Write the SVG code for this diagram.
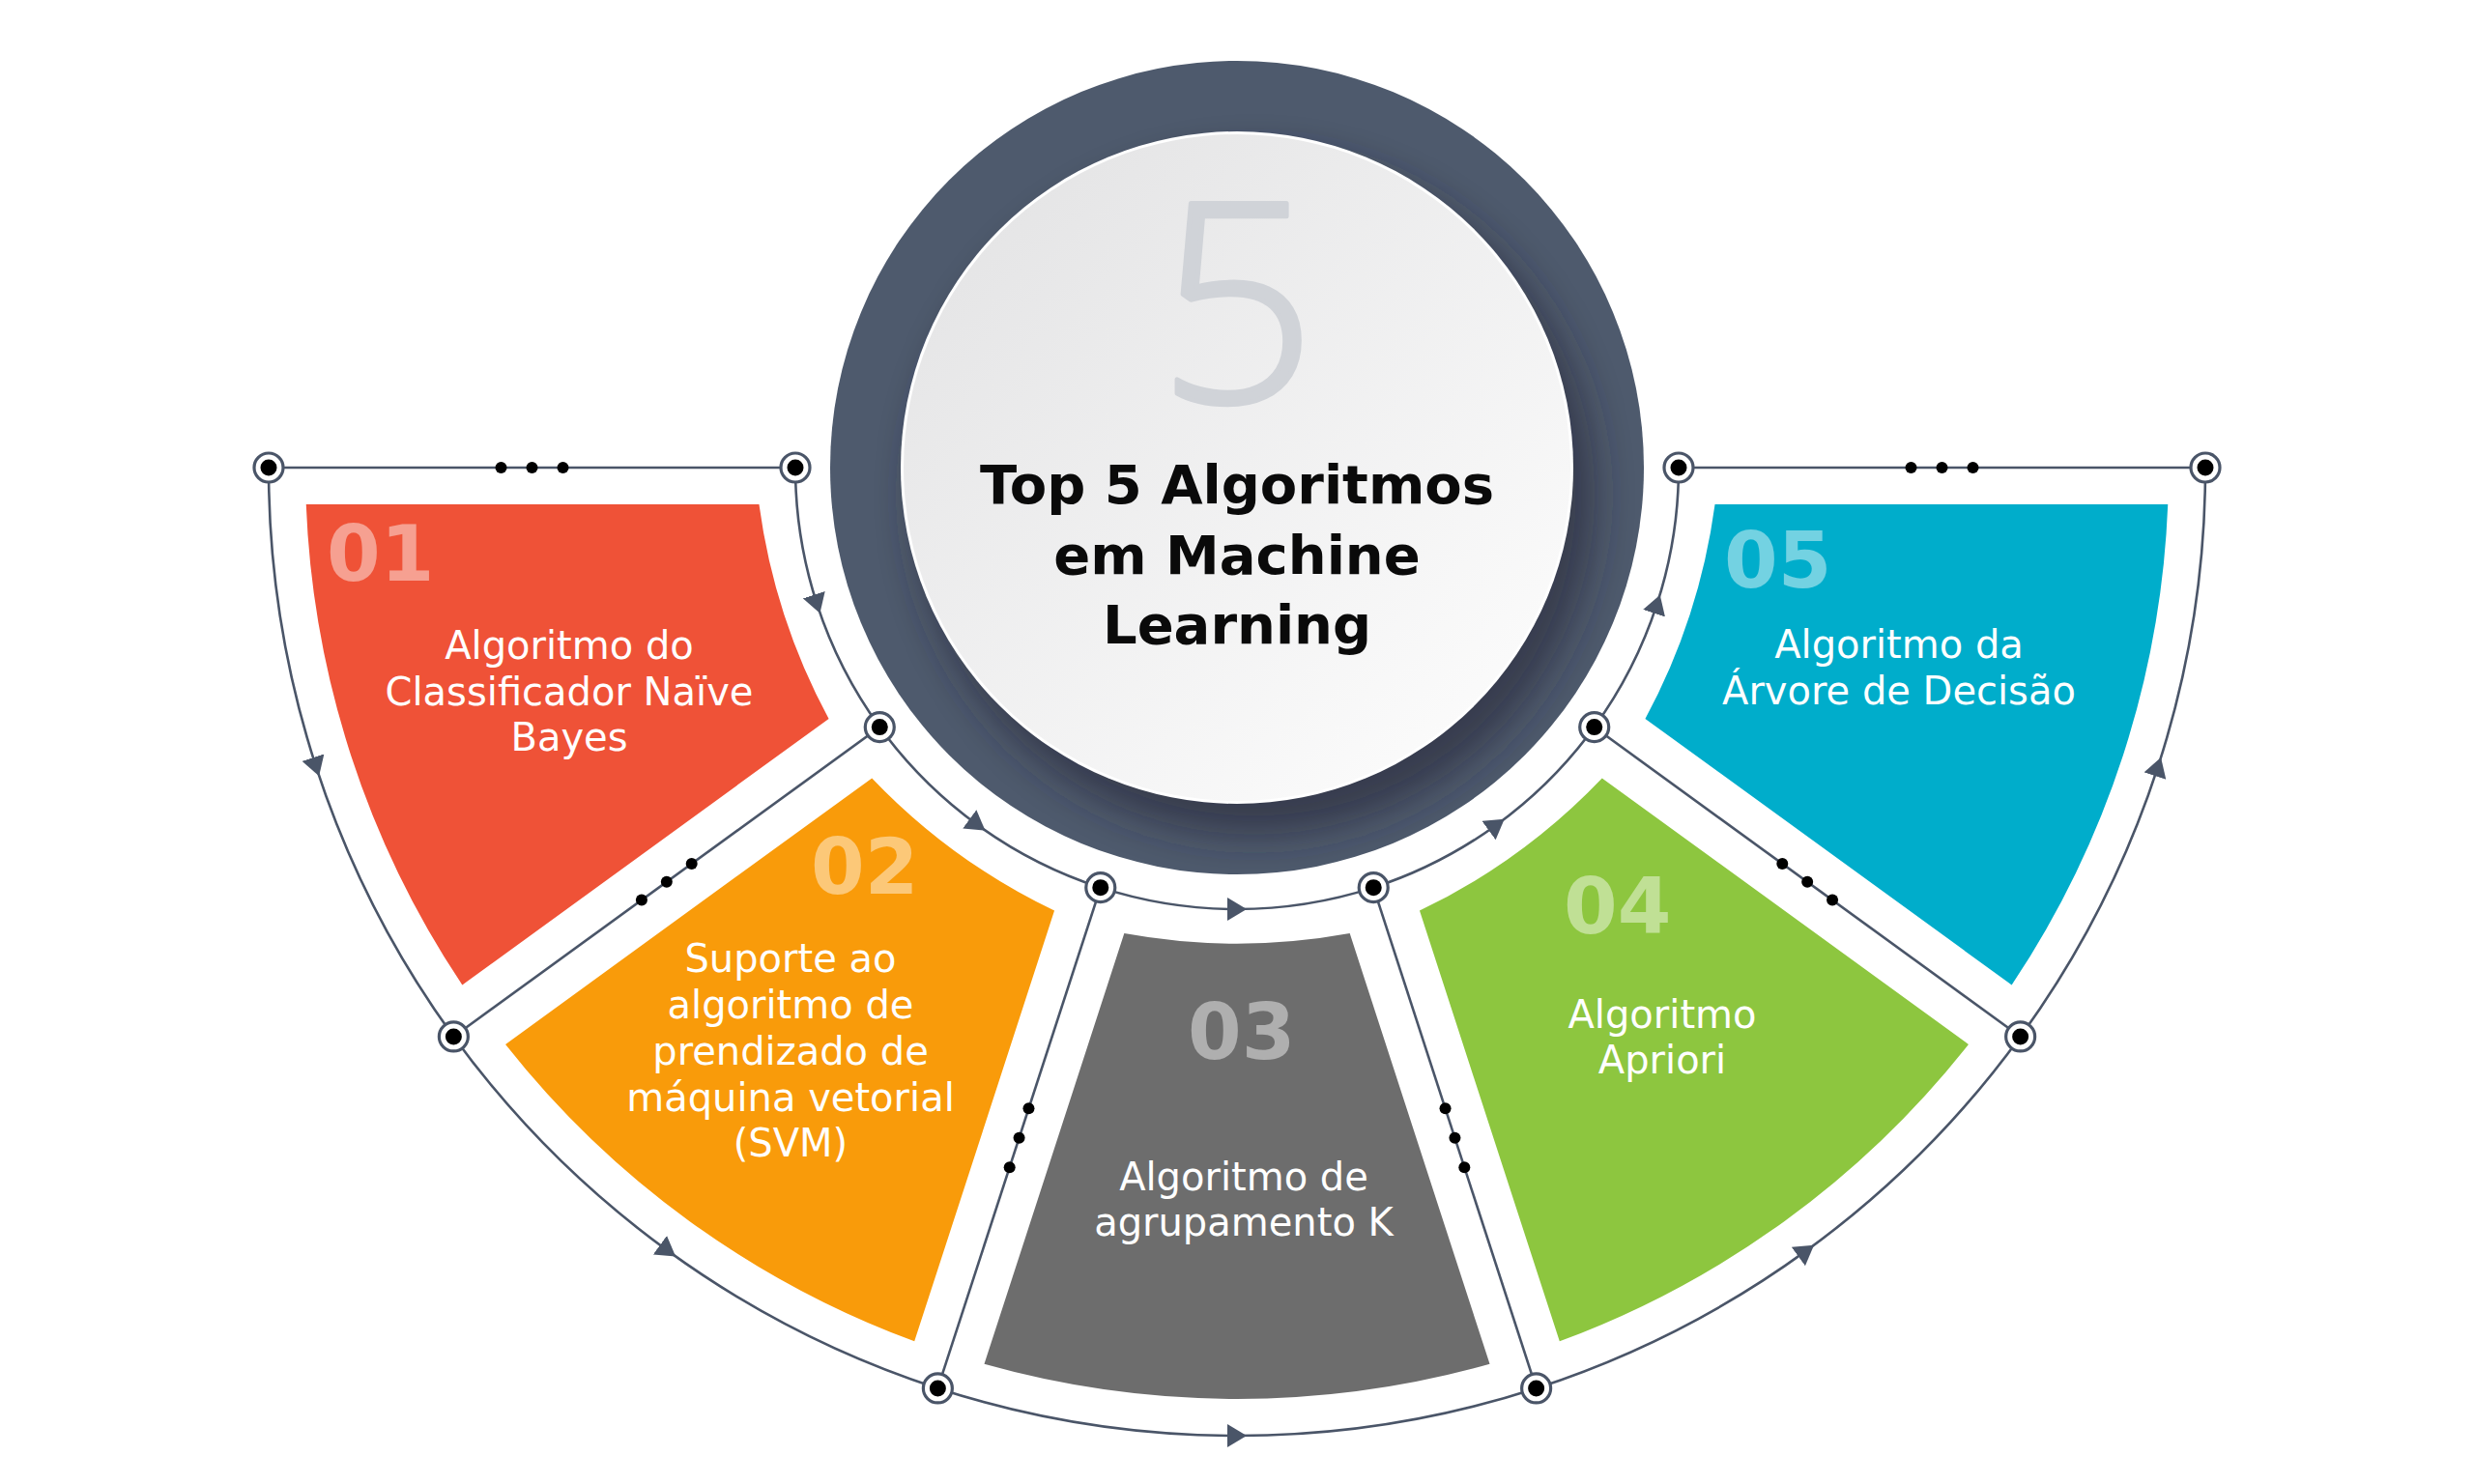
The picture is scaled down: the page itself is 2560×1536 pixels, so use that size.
<svg xmlns="http://www.w3.org/2000/svg" width="2560" height="1536" viewBox="0 0 2560 1536">
<style>
.num{font-family:"DejaVu Sans","Liberation Sans",sans-serif;font-weight:bold;font-size:80px;fill:#fff;fill-opacity:0.45}
.txt{font-family:"DejaVu Sans","Liberation Sans",sans-serif;font-size:40px;fill:#fff;text-anchor:middle}
.title{font-family:"DejaVu Sans","Liberation Sans",sans-serif;font-weight:bold;font-size:56px;fill:#0a0a0a;text-anchor:middle}
.big{font-family:"Open Sans","Liberation Sans",sans-serif;font-weight:300;font-size:288px;fill:#d0d3d8;stroke:#d0d3d8;stroke-width:5;stroke-linejoin:round;text-anchor:middle}
.ln{fill:none;stroke:#4a5568;stroke-width:2.6}
.arc{fill:none;stroke:#4a5568;stroke-width:2.6;marker-mid:url(#arr)}
.ring{fill:#fff;stroke:#4a5568;stroke-width:3.2}
.blk{fill:#000}
</style>
<defs>
<marker id="arr" viewBox="0 0 20 24" markerUnits="userSpaceOnUse" markerWidth="20" markerHeight="24" refX="10" refY="12" orient="auto">
<path d="M0,0 L20,12 L0,24 Z" fill="#4a5568"/>
</marker>
<linearGradient id="disk" x1="0.15" y1="0.1" x2="0.85" y2="0.9">
<stop offset="0" stop-color="#e5e5e6"/>
<stop offset="1" stop-color="#fbfbfb"/>
</linearGradient>
<clipPath id="ringclip"><circle cx="1280" cy="484" r="421"/></clipPath>
<filter id="blur" x="-30%" y="-30%" width="160%" height="160%"><feGaussianBlur stdDeviation="20"/></filter>
</defs>
<rect width="2560" height="1536" fill="#fff"/>

<g id="connectors">
<path class="ln" d="M278,484 L823,484"/>
<path class="ln" d="M1737,484 L2282,484"/>
<path class="ln" d="M910.28,752.62 L469.36,1072.96"/>
<path class="ln" d="M1138.78,918.63 L970.37,1436.96"/>
<path class="ln" d="M1421.22,918.63 L1589.63,1436.96"/>
<path class="ln" d="M1649.72,752.62 L2090.64,1072.96"/>
<path class="arc" d="M278,484 A1002,1002 0 0 0 327.04,793.63 A1002,1002 0 0 0 469.36,1072.96"/>
<path class="arc" d="M469.36,1072.96 A1002,1002 0 0 0 691.04,1294.64 A1002,1002 0 0 0 970.37,1436.96"/>
<path class="arc" d="M970.37,1436.96 A1002,1002 0 0 0 1280,1486 A1002,1002 0 0 0 1589.63,1436.96"/>
<path class="arc" d="M1589.63,1436.96 A1002,1002 0 0 0 1868.96,1294.64 A1002,1002 0 0 0 2090.64,1072.96"/>
<path class="arc" d="M2090.64,1072.96 A1002,1002 0 0 0 2232.96,793.63 A1002,1002 0 0 0 2282,484"/>
<path class="arc" d="M823,484 A457,457 0 0 0 845.37,625.22 A457,457 0 0 0 910.28,752.62"/>
<path class="arc" d="M910.28,752.62 A457,457 0 0 0 1011.38,853.72 A457,457 0 0 0 1138.78,918.63"/>
<path class="arc" d="M1138.78,918.63 A457,457 0 0 0 1280,941 A457,457 0 0 0 1421.22,918.63"/>
<path class="arc" d="M1421.22,918.63 A457,457 0 0 0 1548.62,853.72 A457,457 0 0 0 1649.72,752.62"/>
<path class="arc" d="M1649.72,752.62 A457,457 0 0 0 1714.63,625.22 A457,457 0 0 0 1737,484"/>
<g class="blk">
<circle cx="518.5" cy="484" r="6"/><circle cx="550.5" cy="484" r="6"/><circle cx="582.5" cy="484" r="6"/>
<circle cx="1977.5" cy="484" r="6"/><circle cx="2009.5" cy="484" r="6"/><circle cx="2041.5" cy="484" r="6"/>
<circle cx="715.71" cy="893.98" r="6"/><circle cx="689.83" cy="912.79" r="6"/><circle cx="663.93" cy="931.6" r="6"/>
<circle cx="1064.46" cy="1147.36" r="6"/><circle cx="1054.57" cy="1177.8" r="6"/><circle cx="1044.68" cy="1208.23" r="6"/>
<circle cx="1495.54" cy="1147.36" r="6"/><circle cx="1505.43" cy="1177.8" r="6"/><circle cx="1515.32" cy="1208.23" r="6"/>
<circle cx="1844.29" cy="893.98" r="6"/><circle cx="1870.17" cy="912.79" r="6"/><circle cx="1896.07" cy="931.6" r="6"/>
</g>
</g>

<g id="center">
<circle cx="1280" cy="484" r="421" fill="#4e5a6d"/>
<g clip-path="url(#ringclip)">
<circle cx="1298" cy="512" r="352" fill="#232a36" fill-opacity="0.6" filter="url(#blur)"/>
</g>
<circle cx="1280" cy="484" r="348" fill="#ffffff"/>
<circle cx="1280" cy="484" r="345" fill="url(#disk)"/>
<text class="big" x="1280" y="416">5</text>
<text class="title" x="1280" y="521">Top 5 Algoritmos</text>
<text class="title" x="1280" y="594">em Machine</text>
<text class="title" x="1280" y="666">Learning</text>
</g>

<g id="seg1">
<path fill="#ef5237" d="M316.75,522 L785.46,522 A650,650 0 0 0 857.57,743.94 L478.37,1019.44 A964,964 0 0 1 316.75,522 Z"/>
<text class="num" x="338" y="601">01</text>
<text class="txt" x="589" y="682">Algoritmo do</text>
<text class="txt" x="589" y="730">Classificador Naïve</text>
<text class="txt" x="589" y="777">Bayes</text>
</g>

<g id="seg2">
<path fill="#f99b0a" d="M523.05,1080.92 L902.25,805.42 A650,650 0 0 0 1091.04,942.6 L946.2,1388.37 A964,964 0 0 1 523.05,1080.92 Z"/>
<text class="num" x="839" y="925">02</text>
<text class="txt" x="818" y="1006">Suporte ao</text>
<text class="txt" x="818" y="1054">algoritmo de</text>
<text class="txt" x="818" y="1102">prendizado de</text>
<text class="txt" x="818" y="1150">máquina vetorial</text>
<text class="txt" x="818" y="1197">(SVM)</text>
</g>

<g id="seg3">
<path fill="#6d6d6d" d="M1018.48,1411.85 L1163.32,966.08 A650,650 0 0 0 1396.68,966.08 L1541.52,1411.85 A964,964 0 0 1 1018.48,1411.85 Z"/>
<text class="num" x="1229" y="1096">03</text>
<text class="txt" x="1287" y="1232">Algoritmo de</text>
<text class="txt" x="1287" y="1279">agrupamento K</text>
</g>

<g id="seg4">
<path fill="#8dc63f" d="M1613.8,1388.37 L1468.96,942.6 A650,650 0 0 0 1657.75,805.42 L2036.95,1080.92 A964,964 0 0 1 1613.8,1388.37 Z"/>
<text class="num" x="1618" y="966">04</text>
<text class="txt" x="1720" y="1064">Algoritmo</text>
<text class="txt" x="1720" y="1111">Apriori</text>
</g>

<g id="seg5">
<path fill="#00adcb" d="M2081.63,1019.44 L1702.43,743.94 A650,650 0 0 0 1774.54,522 L2243.25,522 A964,964 0 0 1 2081.63,1019.44 Z"/>
<text class="num" x="1784" y="608">05</text>
<text class="txt" x="1965" y="681">Algoritmo da</text>
<text class="txt" x="1965" y="729">Árvore de Decisão</text>
</g>

<g id="nodes">
<g id="node-o0"><circle class="ring" cx="278" cy="484" r="15"/><circle class="blk" cx="278" cy="484" r="8.5"/></g>
<g id="node-o1"><circle class="ring" cx="469.36" cy="1072.96" r="15"/><circle class="blk" cx="469.36" cy="1072.96" r="8.5"/></g>
<g id="node-o2"><circle class="ring" cx="970.37" cy="1436.96" r="15"/><circle class="blk" cx="970.37" cy="1436.96" r="8.5"/></g>
<g id="node-o3"><circle class="ring" cx="1589.63" cy="1436.96" r="15"/><circle class="blk" cx="1589.63" cy="1436.96" r="8.5"/></g>
<g id="node-o4"><circle class="ring" cx="2090.64" cy="1072.96" r="15"/><circle class="blk" cx="2090.64" cy="1072.96" r="8.5"/></g>
<g id="node-o5"><circle class="ring" cx="2282" cy="484" r="15"/><circle class="blk" cx="2282" cy="484" r="8.5"/></g>
<g id="node-i0"><circle class="ring" cx="823" cy="484" r="15"/><circle class="blk" cx="823" cy="484" r="8.5"/></g>
<g id="node-i1"><circle class="ring" cx="910.28" cy="752.62" r="15"/><circle class="blk" cx="910.28" cy="752.62" r="8.5"/></g>
<g id="node-i2"><circle class="ring" cx="1138.78" cy="918.63" r="15"/><circle class="blk" cx="1138.78" cy="918.63" r="8.5"/></g>
<g id="node-i3"><circle class="ring" cx="1421.22" cy="918.63" r="15"/><circle class="blk" cx="1421.22" cy="918.63" r="8.5"/></g>
<g id="node-i4"><circle class="ring" cx="1649.72" cy="752.62" r="15"/><circle class="blk" cx="1649.72" cy="752.62" r="8.5"/></g>
<g id="node-i5"><circle class="ring" cx="1737" cy="484" r="15"/><circle class="blk" cx="1737" cy="484" r="8.5"/></g>
</g>
</svg>
